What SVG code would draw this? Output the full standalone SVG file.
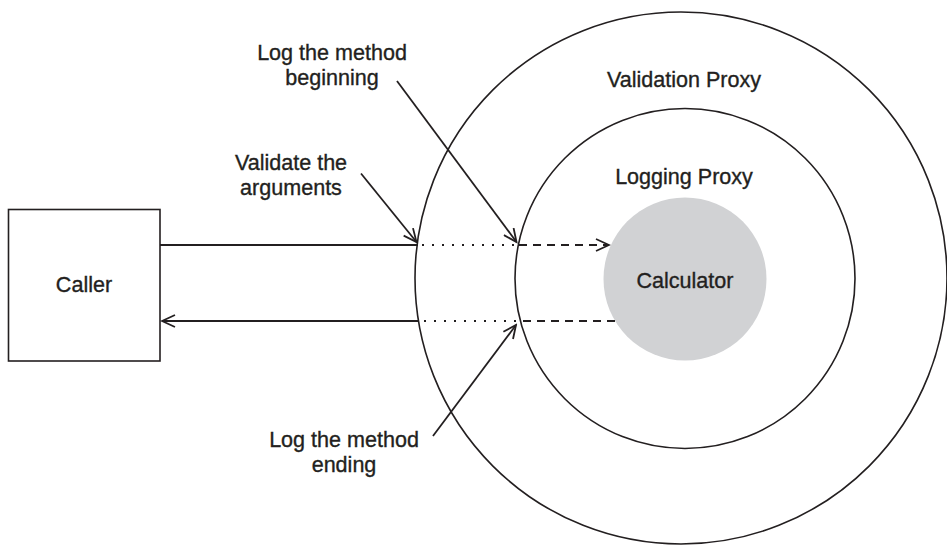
<svg xmlns="http://www.w3.org/2000/svg" width="947" height="548" viewBox="0 0 947 548">
<style>
.t{font-family:"Liberation Sans",Arial,sans-serif;font-size:22px;fill:#231f20;stroke:#231f20;stroke-width:0.35;text-anchor:middle}
.ring{fill:none;stroke:#231f20;stroke-width:1.6}
.ln{fill:none;stroke:#231f20;stroke-width:1.8}
.dot{fill:none;stroke:#231f20;stroke-width:1.8;stroke-dasharray:2 8}
.dash{fill:none;stroke:#231f20;stroke-width:1.8;stroke-dasharray:8 6}
</style>
<defs>
<marker id="ah" viewBox="-14 -7 16 14" markerWidth="16" markerHeight="14" refX="0" refY="0" orient="auto" markerUnits="userSpaceOnUse">
<path d="M-13,-6 L0,0 L-13,6" fill="none" stroke="#231f20" stroke-width="1.8"/>
</marker>
</defs>
<rect width="947" height="548" fill="#ffffff"/>
<g id="validation-proxy">
<circle class="ring" cx="681" cy="278" r="266"/>
<text class="t" transform="translate(684 87) scale(0.98 1)">Validation Proxy</text>
</g>
<g id="logging-proxy">
<circle class="ring" cx="685" cy="278.5" r="170"/>
<text class="t" transform="translate(684 184) scale(0.98 1)">Logging Proxy</text>
</g>
<g id="calculator">
<circle cx="685" cy="279" r="81.5" fill="#d1d2d4"/>
<text class="t" transform="translate(685 288) scale(0.98 1)">Calculator</text>
</g>
<g id="caller">
<rect x="8.5" y="209.5" width="151.5" height="151.5" fill="#ffffff" stroke="#231f20" stroke-width="1.6"/>
<text class="t" transform="translate(84 292) scale(0.98 1)">Caller</text>
</g>
<g id="connectors">
<line class="ln" x1="160" y1="245" x2="418" y2="245"/>
<line class="dot" x1="422" y1="245" x2="516" y2="245"/>
<line class="dash" x1="519" y1="245" x2="609" y2="245" marker-end="url(#ah)"/>
<line class="dash" x1="615" y1="321" x2="519" y2="321"/>
<line class="dot" x1="516" y1="321" x2="420" y2="321"/>
<line class="ln" x1="418" y1="321" x2="162" y2="321" marker-end="url(#ah)"/>
<line class="ln" x1="397" y1="81" x2="516.5" y2="242" marker-end="url(#ah)"/>
<line class="ln" x1="361" y1="173.5" x2="416.5" y2="242" marker-end="url(#ah)"/>
<line class="ln" x1="433" y1="436" x2="516" y2="325" marker-end="url(#ah)"/>
</g>
<g id="labels">
<text class="t" transform="translate(332 59.5) scale(0.98 1)">Log the method</text>
<text class="t" transform="translate(332 84.5) scale(0.98 1)">beginning</text>
<text class="t" transform="translate(291 169.5) scale(0.98 1)">Validate the</text>
<text class="t" transform="translate(291 194.5) scale(0.98 1)">arguments</text>
<text class="t" transform="translate(344 446.5) scale(0.98 1)">Log the method</text>
<text class="t" transform="translate(344 471.5) scale(0.98 1)">ending</text>
</g>
</svg>
